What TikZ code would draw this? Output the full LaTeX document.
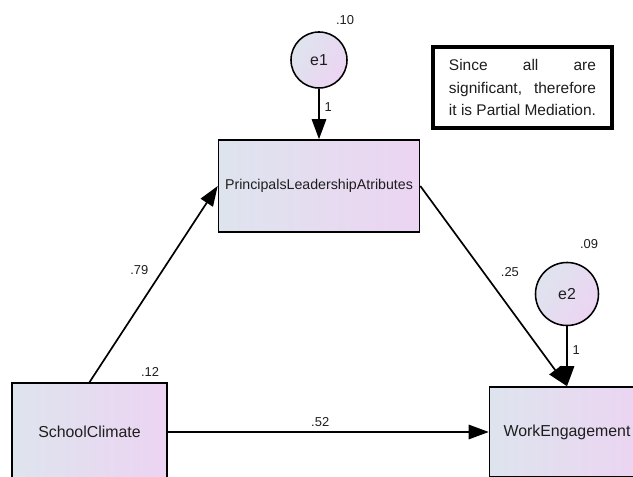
\documentclass[tikz,border=0pt]{standalone}
\usepackage{fontspec}
\setmainfont{Liberation Sans}
\usetikzlibrary{arrows.meta}
\definecolor{boxleft}{RGB}{222,228,238}
\definecolor{boxright}{RGB}{236,212,242}
\definecolor{inktext}{RGB}{30,30,30}

\begin{document}
\begin{tikzpicture}[x=0.025cm,y=-0.025cm,
  var/.style={rectangle,draw=black,line width=1.1pt,left color=boxleft,right color=boxright,
    text=inktext,font=\fontsize{11.3}{13}\selectfont,inner sep=0pt},
  err/.style={circle,draw=black,line width=1.1pt,left color=boxleft,right color=boxright,
    shading angle=60,text=inktext,font=\fontsize{11.3}{13}\selectfont,inner sep=0pt},
  arr/.style={-{Triangle[length=0.5cm,width=0.36cm]},line width=1.2pt},
  lbl/.style={font=\fontsize{9.2}{11}\selectfont,text=inktext}]
\clip (0,0) rectangle (633,477);
% observed variables
\node[var,minimum width=5.025cm,minimum height=2.3cm,font=\fontsize{10.1}{12}\selectfont] (pla) at (319,186) {PrincipalsLeadershipAtributes};
\node[var,minimum width=3.875cm,minimum height=2.45cm] (sc) at (89.5,432) {SchoolClimate};
\node[var,minimum width=3.875cm,minimum height=2.25cm] (we) at (567,432) {WorkEngagement};
% error terms
\node[err,minimum size=1.4cm] (e1) at (319,60) {e1};
\node[err,minimum size=1.575cm] (e2) at (567,294) {e2};
% variances
\node[lbl] (v1) at (345,20) {.10};
\node[lbl] (v2) at (589,244) {.09};
\node[lbl] (v3) at (150,372) {.12};
% note
\node[draw=black,line width=2.4pt,fill=white,text=inktext,text width=3.675cm,align=justify,
  inner xsep=0.4cm,minimum height=2.025cm,font=\fontsize{11}{16.3}\selectfont] (note) at (522.5,87.5)
  {Since all are\linebreak significant, therefore\linebreak it is Partial Mediation.};
% paths
\draw[arr] (e1) -- node[lbl,pos=0.37,right]{1} (pla);
\draw[arr] (e2) -- node[lbl,pos=0.39,right]{1} (we.north);
\draw[arr] (sc.north) -- node[lbl,pos=0.57,left=0.22cm]{.79} (pla.west);
\draw[arr] (pla.east) -- node[lbl,pos=0.43,right=0.3cm]{.25} (we.north);
\draw[arr] (sc) -- node[lbl,pos=0.475,above]{.52} (we);
\end{tikzpicture}
\end{document}
